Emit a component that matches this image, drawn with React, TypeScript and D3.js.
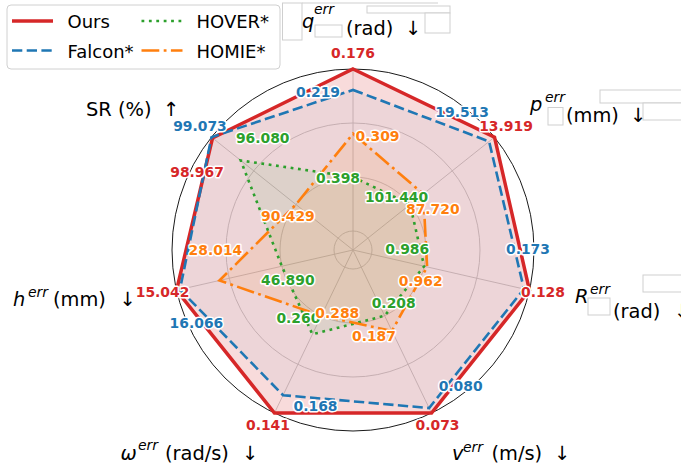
import React from "react";
import * as d3 from "d3";

// ---------- data ----------
const AXIS_SYMBOLS = ["q", "p", "R", "v", "ω", "h", "SR"];
const AXIS_UNITS = ["(rad)", "(mm)", "(rad)", "(m/s)", "(rad/s)", "(mm)", "(%)"];
const HIGHER_IS_BETTER = [false, false, false, false, false, false, true];
const SERIES_NAMES = ["Ours", "Falcon*", "HOVER*", "HOMIE*"];
const OURS = [0.176, 13.919, 0.128, 0.073, 0.141, 15.042, 98.967];
const FALCON = [0.219, 19.513, 0.173, 0.08, 0.168, 16.066, 99.073];
const HOVER = [0.398, 101.44, 0.986, 0.208, 0.26, 46.89, 96.08];
const HOMIE = [0.309, 87.72, 0.962, 0.187, 0.288, 28.014, 90.429];
const RADIAL_TICKS = [0.25, 0.5, 0.75, 1.0];

// ---------- layout / style ----------
const W = 681;
const H = 466;
const CX = 353;
const CY = 250;
const R_OUT = 181;
const COLORS = ["#d62728", "#1f77b4", "#2ca02c", "#ff7f0e"];
const DASHES = ["", "10.3 4.4", "2.8 4.6", "17.8 4.4 2.8 4.4"];
const WIDTHS = [3.5, 2.6, 2.6, 2.6];
const FILL_OP = [0.17, 0.05, 0.08, 0.1];
const LABEL_OFFSETS = [
  [[0, -16], [11.5, -11], [13.5, 2], [6, 12], [-6.5, 12], [-14, 2], [-15.5, 34.5]],
  [[-35, 2], [-27, -29], [4, -40], [31.5, -22], [32.5, 11], [16.5, 33.5], [-11.5, -11]],
  [[-15, 1], [-13.5, -7.5], [-17, -17], [9, -13], [-14, -16], [6, 14], [22, -22.5]],
  [[24.5, 2], [9.5, 15], [-6.5, 14], [-18, 5], [16, -3], [-4, -30.5], [-8, 11.5]],
];
// axis label pieces: symbol x/baseline, sup x/baseline, unit x/baseline, arrow center x
const AXIS_LABEL_POS = [
  { sx: 302, sy: 28, ex: 314, ey: 14, ux: 346, uy: 35, ax: 413 },
  { sx: 530, sy: 110.5, ex: 545, ey: 102, ux: 566, uy: 122, ax: 638 },
  { sx: 575, sy: 302.5, ex: 590, ey: 294, ux: 613, uy: 318, ax: 682 },
  { sx: 452, sy: 460, ex: 463, ey: 452, ux: 491.5, uy: 460, ax: 562 },
  { sx: 120.5, sy: 460, ex: 138, ey: 450, ux: 165, uy: 460, ax: 250 },
  { sx: 13, sy: 306, ex: 28, ey: 297, ux: 53, uy: 306, ax: 127.5 },
  { sx: 86, sy: 116, ex: 0, ey: 0, ux: 0, uy: 0, ax: 171 },
];
const ARTIFACT_RECTS = [
  [282.5, 3, 19.5, 37],
  [367, 6, 83, 7],
  [425, 13, 25, 20],
  [315, 25, 27, 12],
  [548, 107.5, 15, 17.5],
  [600, 90, 82, 13],
  [643, 103, 40, 17],
  [588, 298, 22, 17],
  [643, 275, 40, 17],
];

const FONT = "DejaVu Sans, sans-serif";

export default function App() {
  const series = [OURS, FALCON, HOVER, HOMIE];
  const n = AXIS_SYMBOLS.length;

  // per-axis min-max normalisation (best = 1)
  const scores = series.map((vals) =>
    vals.map((v, i) => {
      const col = series.map((s) => s[i]);
      const mn = d3.min(col) as number;
      const mx = d3.max(col) as number;
      const s = HIGHER_IS_BETTER[i] ? (v - mn) / (mx - mn) : (mx - v) / (mx - mn);
      return 0.5 + 0.5 * s;
    })
  );

  const angle = d3.scaleLinear().domain([0, n]).range([0, 2 * Math.PI]);
  const rScale = d3.scaleLinear().domain([0.25, 1]).range([19, R_OUT]);
  const pt = (i: number, v: number) => {
    const a = angle(i);
    const r = rScale(v);
    return [CX + r * Math.sin(a), CY - r * Math.cos(a)];
  };
  const line = d3
    .lineRadial<number>()
    .angle((_, i) => angle(i))
    .radius((d) => rScale(d))
    .curve(d3.curveLinearClosed);
  const fmt = d3.format(".3f");

  return (
    <svg
      width={W}
      height={H}
      style={{ position: "absolute", left: 0, top: 0, background: "#fff" }}
      fontFamily={FONT}
    >
      {/* artifacts */}
      {ARTIFACT_RECTS.map((r, k) => (
        <rect key={"ar" + k} x={r[0]} y={r[1]} width={r[2]} height={r[3]} fill="#fff" stroke="#cfcfcf" strokeWidth={1} />
      ))}
      <line x1={302} y1={3} x2={438} y2={3} stroke="#cfcfcf" strokeWidth={1} />

      {/* grid */}
      {RADIAL_TICKS.slice(0, -1).map((t) => (
        <circle key={t} cx={CX} cy={CY} r={rScale(t)} fill="none" stroke="#c8c8c8" strokeWidth={0.9} />
      ))}
      {AXIS_SYMBOLS.map((_, i) => {
        const [x, y] = pt(i, 1);
        return <line key={"sp" + i} x1={CX} y1={CY} x2={x} y2={y} stroke="#c8c8c8" strokeWidth={0.9} />;
      })}
      <circle cx={CX} cy={CY} r={R_OUT} fill="none" stroke="#000" strokeWidth={0.9} />

      {/* series */}
      <g transform={`translate(${CX},${CY})`}>
        {scores.map((sc, k) => (
          <path key={"f" + k} d={line(sc) || ""} fill={COLORS[k]} fillOpacity={FILL_OP[k]} stroke="none" />
        ))}
        {scores.map((sc, k) => (
          <path
            key={"l" + k}
            d={line(sc) || ""}
            fill="none"
            stroke={COLORS[k]}
            strokeWidth={WIDTHS[k]}
            strokeDasharray={DASHES[k] || undefined}
            strokeLinejoin="miter"
          />
        ))}
      </g>

      {/* value labels */}
      {series.map((vals, k) =>
        vals.map((v, i) => {
          const [x, y] = pt(i, scores[k][i]);
          const [dx, dy] = LABEL_OFFSETS[k][i];
          return (
            <text
              key={"v" + k + "-" + i}
              x={x + dx}
              y={y + dy}
              dy="0.36em"
              textAnchor="middle"
              fontSize={13.9}
              fontWeight="bold"
              fill={COLORS[k]}
              stroke="#fff"
              strokeWidth={3}
              strokeLinejoin="round"
              paintOrder="stroke"
            >
              {fmt(v)}
            </text>
          );
        })
      )}

      {/* axis labels */}
      {AXIS_SYMBOLS.map((s, i) => {
        const p = AXIS_LABEL_POS[i];
        const arrow = HIGHER_IS_BETTER[i] ? "↑" : "↓";
        if (s === "SR") {
          return (
            <g key={"al" + i} fontSize={19.4} fill="#000">
              <text x={p.sx} y={p.sy}>{`SR ${AXIS_UNITS[i]}`}</text>
              <text x={p.ax} y={p.sy} textAnchor="middle">{arrow}</text>
            </g>
          );
        }
        return (
          <g key={"al" + i} fill="#000">
            <text x={p.sx} y={p.sy} fontSize={19.4} fontStyle="italic">{s}</text>
            <text x={p.ex} y={p.ey} fontSize={14} fontStyle="italic">err</text>
            <text x={p.ux} y={p.uy} fontSize={19.4}>{AXIS_UNITS[i]}</text>
            <text x={p.ax} y={p.uy} fontSize={19.4} textAnchor="middle">{arrow}</text>
          </g>
        );
      })}

      {/* legend */}
      <g>
        <rect x={7} y={5} width={273} height={64} rx={4} fill="#fff" fillOpacity={0.8} stroke="#d0d0d0" strokeWidth={1} />
        {SERIES_NAMES.map((name, k) => {
          // column-major: Ours, Falcon* in col 0; HOVER*, HOMIE* in col 1
          const c = k < 2 ? 0 : 1;
          const r = k % 2;
          const lx = c === 0 ? 12 : 141.5;
          const tx = c === 0 ? 67.5 : 196.5;
          const ly = r === 0 ? 21 : 50.5;
          return (
            <g key={"lg" + k}>
              <line
                x1={lx}
                x2={lx + 41}
                y1={ly}
                y2={ly}
                stroke={COLORS[k]}
                strokeWidth={WIDTHS[k]}
                strokeDasharray={DASHES[k] || undefined}
              />
              <text x={tx} y={ly + 7} fontSize={18} fill="#000">{name}</text>
            </g>
          );
        })}
      </g>
    </svg>
  );
}
